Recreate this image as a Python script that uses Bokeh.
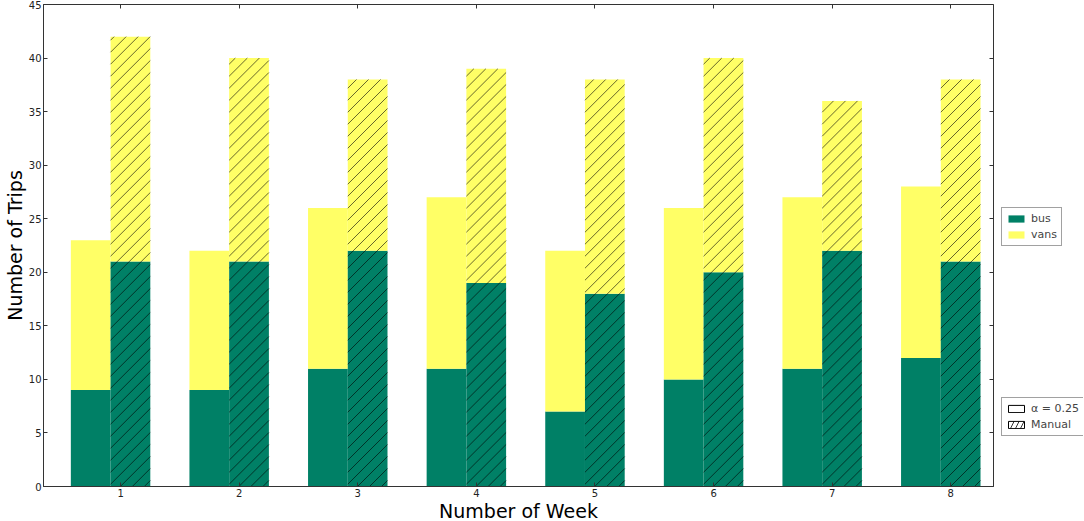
import numpy as np
from bokeh.plotting import figure
from bokeh.layouts import row
from bokeh.models import (ColumnDataSource, Range1d, Legend, LegendItem, FixedTicker,
                          LinearAxis)
from bokeh.embed import file_html
from bokeh.resources import INLINE

weeks = [1, 2, 3, 4, 5, 6, 7, 8]
bus_alpha = [9, 9, 11, 11, 7, 10, 11, 12]
vans_alpha = [14, 13, 15, 16, 15, 16, 16, 16]
bus_manual = [21, 21, 22, 19, 18, 20, 22, 21]
vans_manual = [21, 19, 16, 20, 20, 20, 14, 17]

GREEN = "#008066"
YELLOW = "#ffff66"
FONT = "DejaVu Sans"
BAR_W = 0.335
FRAME_W, FRAME_H = 950, 482
XR = (0.35, 8.36)
YR = (0, 45)
HATCH_SPACING = 12  # px between hatch lines (horizontal)

xa = [w - 0.252 for w in weeks]
xm = [w + 0.083 for w in weeks]
src_a = ColumnDataSource(dict(x=xa, bus=bus_alpha, vans=vans_alpha))
src_m = ColumnDataSource(dict(x=xm, bus=bus_manual, vans=vans_manual))

p = figure(frame_width=FRAME_W, frame_height=FRAME_H, output_backend="svg",
           toolbar_location=None, x_range=Range1d(*XR), y_range=Range1d(*YR),
           min_border_left=0, min_border_top=4, min_border_right=5, min_border_bottom=0)
p.grid.visible = False
p.background_fill_color = "white"
p.outline_line_color = "#333333"
p.outline_line_width = 1

ra = p.vbar_stack(["bus", "vans"], x="x", width=BAR_W, color=[GREEN, YELLOW],
                  line_color=None, source=src_a)
rm = p.vbar_stack(["bus", "vans"], x="x", width=BAR_W, color=[GREEN, YELLOW],
                  line_color=None, source=src_m)

# 45-degree hatch lines over the "Manual" bars, derived from the bar data
sx = FRAME_W / (XR[1] - XR[0])
sy = FRAME_H / (YR[1] - YR[0])
x0s, y0s, x1s, y1s = [], [], [], []
for xc, b, v in zip(xm, bus_manual, vans_manual):
    left = xc - BAR_W / 2
    W = BAR_W * sx
    H = (b + v) * sy
    c = -W + (HATCH_SPACING / 2)
    while c < H:
        u0 = max(0.0, -c)
        u1 = min(W, H - c)
        if u1 > u0:
            x0s.append(left + u0 / sx); y0s.append((u0 + c) / sy)
            x1s.append(left + u1 / sx); y1s.append((u1 + c) / sy)
        c += HATCH_SPACING
p.segment(x0=x0s, y0=y0s, x1=x1s, y1=y1s, line_color="black", line_width=0.8,
          line_alpha=0.75)

# mirrored tick marks on top and right (classic style)
p.add_layout(LinearAxis(), "above")
p.add_layout(LinearAxis(), "right")

for ax in p.axis:
    ax.major_tick_in = 4
    ax.major_tick_out = 0
    ax.minor_tick_line_color = None
    ax.axis_line_color = "#333333"
    ax.major_tick_line_color = "#333333"
    ax.major_label_text_font = FONT
    ax.major_label_text_font_size = "10px"
    ax.major_label_text_color = "#222222"
    ax.axis_label_text_font = FONT
    ax.axis_label_text_font_size = "19px"
    ax.axis_label_text_font_style = "normal"
    ax.axis_label_text_color = "black"
    ax.major_label_standoff = 2
    ax.axis_label_standoff = 0

for ax in p.above + p.right:
    if isinstance(ax, LinearAxis):
        ax.major_label_text_font_size = "1px"
        ax.major_label_text_color = None
        ax.major_label_standoff = 0
        ax.axis_line_color = None

for ax in p.xaxis:
    ax.ticker = FixedTicker(ticks=weeks)
for ax in p.yaxis:
    ax.ticker = FixedTicker(ticks=list(range(0, 46, 5)))
p.below[0].axis_label = "Number of Week"
p.left[0].axis_label = "Number of Trips"

# legend panel
q = figure(width=85, height=505, output_backend="svg", toolbar_location=None,
           x_range=Range1d(0, 1), y_range=Range1d(0, 1),
           min_border_left=0, min_border_right=0, min_border_top=0, min_border_bottom=0)
q.axis.visible = False
q.grid.visible = False
q.outline_line_color = None

proxy = ColumnDataSource(dict(x=np.array([np.nan]), top=np.array([np.nan]),
                              bottom=np.array([np.nan])))
kw = dict(x="x", top="top", bottom="bottom", width=0.1, source=proxy)
l_bus = q.vbar(fill_color=GREEN, line_color=None, **kw)
l_vans = q.vbar(fill_color=YELLOW, line_color=None, **kw)
l_alpha = q.vbar(fill_color="white", line_color="black", line_width=1, **kw)
l_man = q.vbar(fill_color="white", line_color="black", line_width=1,
               hatch_pattern="/", hatch_color="black", hatch_scale=10, hatch_weight=0.8,
               **kw)

leg1 = Legend(items=[LegendItem(label="bus", renderers=[l_bus]),
                     LegendItem(label="vans", renderers=[l_vans])],
              location=(3, 221))
leg2 = Legend(items=[LegendItem(label="α = 0.25", renderers=[l_alpha]),
                     LegendItem(label="Manual", renderers=[l_man])],
              location=(3, 31))
for lg in (leg1, leg2):
    lg.label_text_font = FONT
    lg.label_text_font_size = "11px"
    lg.glyph_width = 20
    lg.glyph_height = 9
    lg.label_height = 11
    lg.spacing = 3
    lg.padding = 4
    lg.margin = 0
    lg.label_standoff = 5
    lg.border_line_color = "#444444"
    lg.border_line_width = 1
    lg.background_fill_color = "white"
    q.add_layout(lg)

open("out.html", "w").write(file_html(row(p, q), INLINE))
